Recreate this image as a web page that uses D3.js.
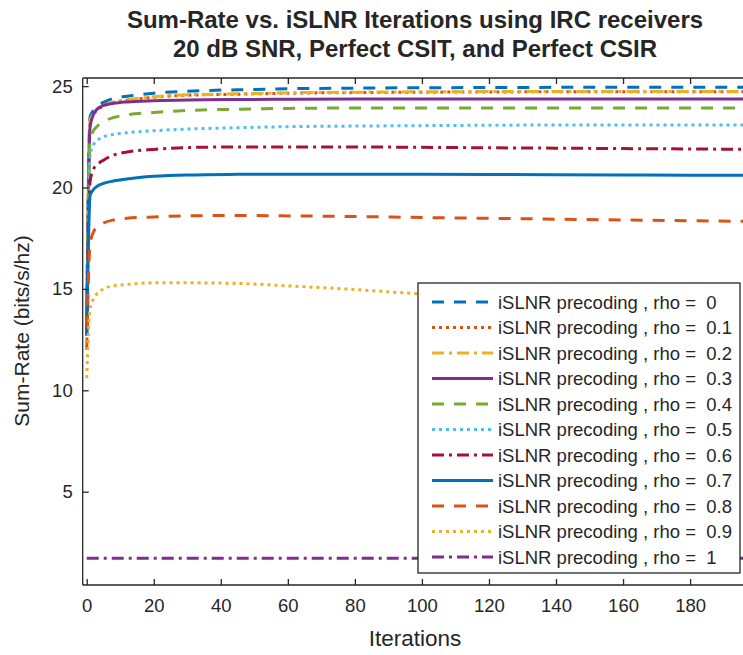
<!DOCTYPE html>
<html>
<head>
<meta charset="utf-8">
<script src="https://cdn.jsdelivr.net/npm/d3@7"></script>
<style>
  body { margin: 0; background: #fff; }
  svg { display: block; }
  text { font-family: "Liberation Sans", Arial, sans-serif; fill: #262626; }
</style>
</head>
<body>
<svg id="chart" width="743" height="655"></svg>
<script>
// ---------------- DATA ----------------
const iterations = [0, 1, 2, 3, 5, 8, 12, 20, 30, 45, 60, 80, 100, 120, 140, 160, 180, 200];
const rhoLabels = ["0", "0.1", "0.2", "0.3", "0.4", "0.5", "0.6", "0.7", "0.8", "0.9", "1"];
const rho0  = [13.5, 23.5, 23.8, 24.0, 24.2, 24.4, 24.5, 24.65, 24.75, 24.82, 24.87, 24.9, 24.92, 24.93, 24.94, 24.95, 24.95, 24.95];
const rho01 = [13.0, 23.2, 23.6, 23.8, 24.0, 24.2, 24.3, 24.45, 24.55, 24.6, 24.65, 24.68, 24.7, 24.71, 24.72, 24.72, 24.72, 24.72];
const rho02 = [13.2, 23.3, 23.65, 23.85, 24.05, 24.22, 24.33, 24.47, 24.57, 24.62, 24.67, 24.7, 24.72, 24.73, 24.74, 24.74, 24.74, 24.74];
const rho03 = [13.0, 23.0, 23.6, 23.85, 24.05, 24.15, 24.22, 24.28, 24.32, 24.34, 24.35, 24.36, 24.36, 24.36, 24.36, 24.36, 24.36, 24.36];
const rho04 = [12.9, 22.3, 22.8, 23.0, 23.25, 23.45, 23.58, 23.7, 23.8, 23.86, 23.9, 23.92, 23.92, 23.92, 23.92, 23.92, 23.92, 23.92];
const rho05 = [12.8, 21.6, 22.1, 22.3, 22.5, 22.62, 22.7, 22.8, 22.88, 22.95, 23.0, 23.03, 23.05, 23.07, 23.08, 23.08, 23.08, 23.08];
const rho06 = [12.7, 20.3, 20.9, 21.1, 21.35, 21.6, 21.75, 21.88, 21.97, 22.0, 22.0, 22.0, 21.98, 21.96, 21.94, 21.92, 21.9, 21.88];
const rho07 = [12.7, 19.6, 19.9, 20.05, 20.2, 20.32, 20.42, 20.55, 20.62, 20.65, 20.66, 20.66, 20.65, 20.64, 20.63, 20.62, 20.6, 20.6];
const rho08 = [12.0, 17.2, 17.8, 18.05, 18.25, 18.4, 18.48, 18.55, 18.6, 18.62, 18.6, 18.57, 18.52, 18.48, 18.44, 18.4, 18.36, 18.33];
const rho09 = [10.6, 14.0, 14.5, 14.75, 15.0, 15.15, 15.22, 15.3, 15.3, 15.27, 15.15, 14.97, 14.75, 14.6, 14.45, 14.35, 14.25, 14.2];
const rho1  = [1.72, 1.72, 1.72, 1.72, 1.72, 1.72, 1.72, 1.72, 1.72, 1.72, 1.72, 1.72, 1.72, 1.72, 1.72, 1.72, 1.72, 1.72];
const seriesValues = [rho0, rho01, rho02, rho03, rho04, rho05, rho06, rho07, rho08, rho09, rho1];
const xTicks = [0, 20, 40, 60, 80, 100, 120, 140, 160, 180];
const yTicks = [5, 10, 15, 20, 25];

// ---------------- STYLES ----------------
const colors = ["#0072BD", "#D95319", "#EDB120", "#7E2F8E", "#77AC30", "#4DBEEE", "#A2142F", "#0072BD", "#D95319", "#EDB120", "#7E2F8E"];
const DASH = "12,10", DOT = "3,4", DASHDOT = "12,5,3,5", SOLID = null;
const dashes = [DASH, DOT, DASHDOT, SOLID, DASH, DOT, DASHDOT, SOLID, DASH, DOT, DASHDOT];

// ---------------- LAYOUT ----------------
const svg = d3.select("#chart");
const plotLeft = 82.7, plotTop = 78, plotBottom = 585;
const x = d3.scaleLinear().domain([-1.2, 200]).range([plotLeft, plotLeft + 201.2 * 3.352]);
const y = d3.scaleLinear().domain([0.4, 25.4]).range([plotBottom, plotTop]);
const plotRight = x(200);

svg.append("defs").append("clipPath").attr("id", "clip")
  .append("rect").attr("x", plotLeft).attr("y", plotTop)
  .attr("width", plotRight - plotLeft).attr("height", plotBottom - plotTop);

// lines
const line = d3.line().x(d => x(d[0])).y(d => y(d[1])).curve(d3.curveMonotoneX);
const gLines = svg.append("g").attr("clip-path", "url(#clip)");
seriesValues.forEach((vals, i) => {
  gLines.append("path")
    .datum(iterations.map((it, k) => [it, vals[k]]))
    .attr("d", line)
    .attr("fill", "none")
    .attr("stroke", colors[i])
    .attr("stroke-width", 3)
    .attr("stroke-dasharray", dashes[i]);
});

// axes
const axisColor = "#262626";
const xAxisB = svg.append("g").attr("transform", `translate(0,${plotBottom})`)
  .call(d3.axisBottom(x).tickValues(xTicks).tickSize(-6).tickPadding(14).tickFormat(d3.format("d")));
const xAxisT = svg.append("g").attr("transform", `translate(0,${plotTop})`)
  .call(d3.axisTop(x).tickValues(xTicks).tickSize(-6).tickFormat(""));
const yAxisL = svg.append("g").attr("transform", `translate(${plotLeft},0)`)
  .call(d3.axisLeft(y).tickValues(yTicks).tickSize(-6).tickPadding(10).tickFormat(d3.format("d")));
[xAxisB, xAxisT, yAxisL].forEach(g => {
  g.select(".domain").attr("stroke", axisColor).attr("stroke-width", 1.3);
  g.selectAll(".tick line").attr("stroke", axisColor).attr("stroke-width", 1.3);
  g.selectAll(".tick text").attr("fill", axisColor).style("font-size", "18.5px")
    .style("font-family", "'Liberation Sans', Arial, sans-serif");
});
xAxisB.select(".domain").attr("d", `M${plotLeft},0H${plotRight}`);
xAxisT.select(".domain").attr("d", `M${plotLeft},0H${plotRight}`);
yAxisL.select(".domain").attr("d", `M0,${plotTop}V${plotBottom}`);

// labels
svg.append("text").attr("x", 415).attr("y", 646).attr("text-anchor", "middle")
  .style("font-size", "22.5px").text("Iterations");
svg.append("text").attr("transform", "translate(29,331) rotate(-90)").attr("text-anchor", "middle")
  .style("font-size", "21px").text("Sum-Rate (bits/s/hz)");

// title
const title = svg.append("g");
title.append("text").attr("x", 415).attr("y", 28).attr("text-anchor", "middle")
  .style("font-size", "24px").style("font-weight", "bold").attr("fill", "#000")
  .text("Sum-Rate vs. iSLNR Iterations using IRC receivers");
title.append("text").attr("x", 415).attr("y", 57).attr("text-anchor", "middle")
  .style("font-size", "24px").style("font-weight", "bold").attr("fill", "#000")
  .text("20 dB SNR, Perfect CSIT, and Perfect CSIR");

// legend
const lgX = 418, lgY = 283, lgW = 322, lgH = 290;
const legend = svg.append("g");
legend.append("rect").attr("x", lgX).attr("y", lgY).attr("width", lgW).attr("height", lgH)
  .attr("fill", "#fff").attr("stroke", axisColor).attr("stroke-width", 1.3);
rhoLabels.forEach((r, i) => {
  const ry = 302 + i * 25.5;
  legend.append("line").attr("x1", 432).attr("x2", 493).attr("y1", ry).attr("y2", ry)
    .attr("stroke", colors[i]).attr("stroke-width", 3).attr("stroke-dasharray", dashes[i]);
  legend.append("text").attr("x", 498).attr("y", ry + 6.5)
    .style("font-size", "18.5px").style("white-space", "pre").attr("xml:space", "preserve")
    .text("iSLNR precoding , rho =  " + r);
});
</script>
</body>
</html>
